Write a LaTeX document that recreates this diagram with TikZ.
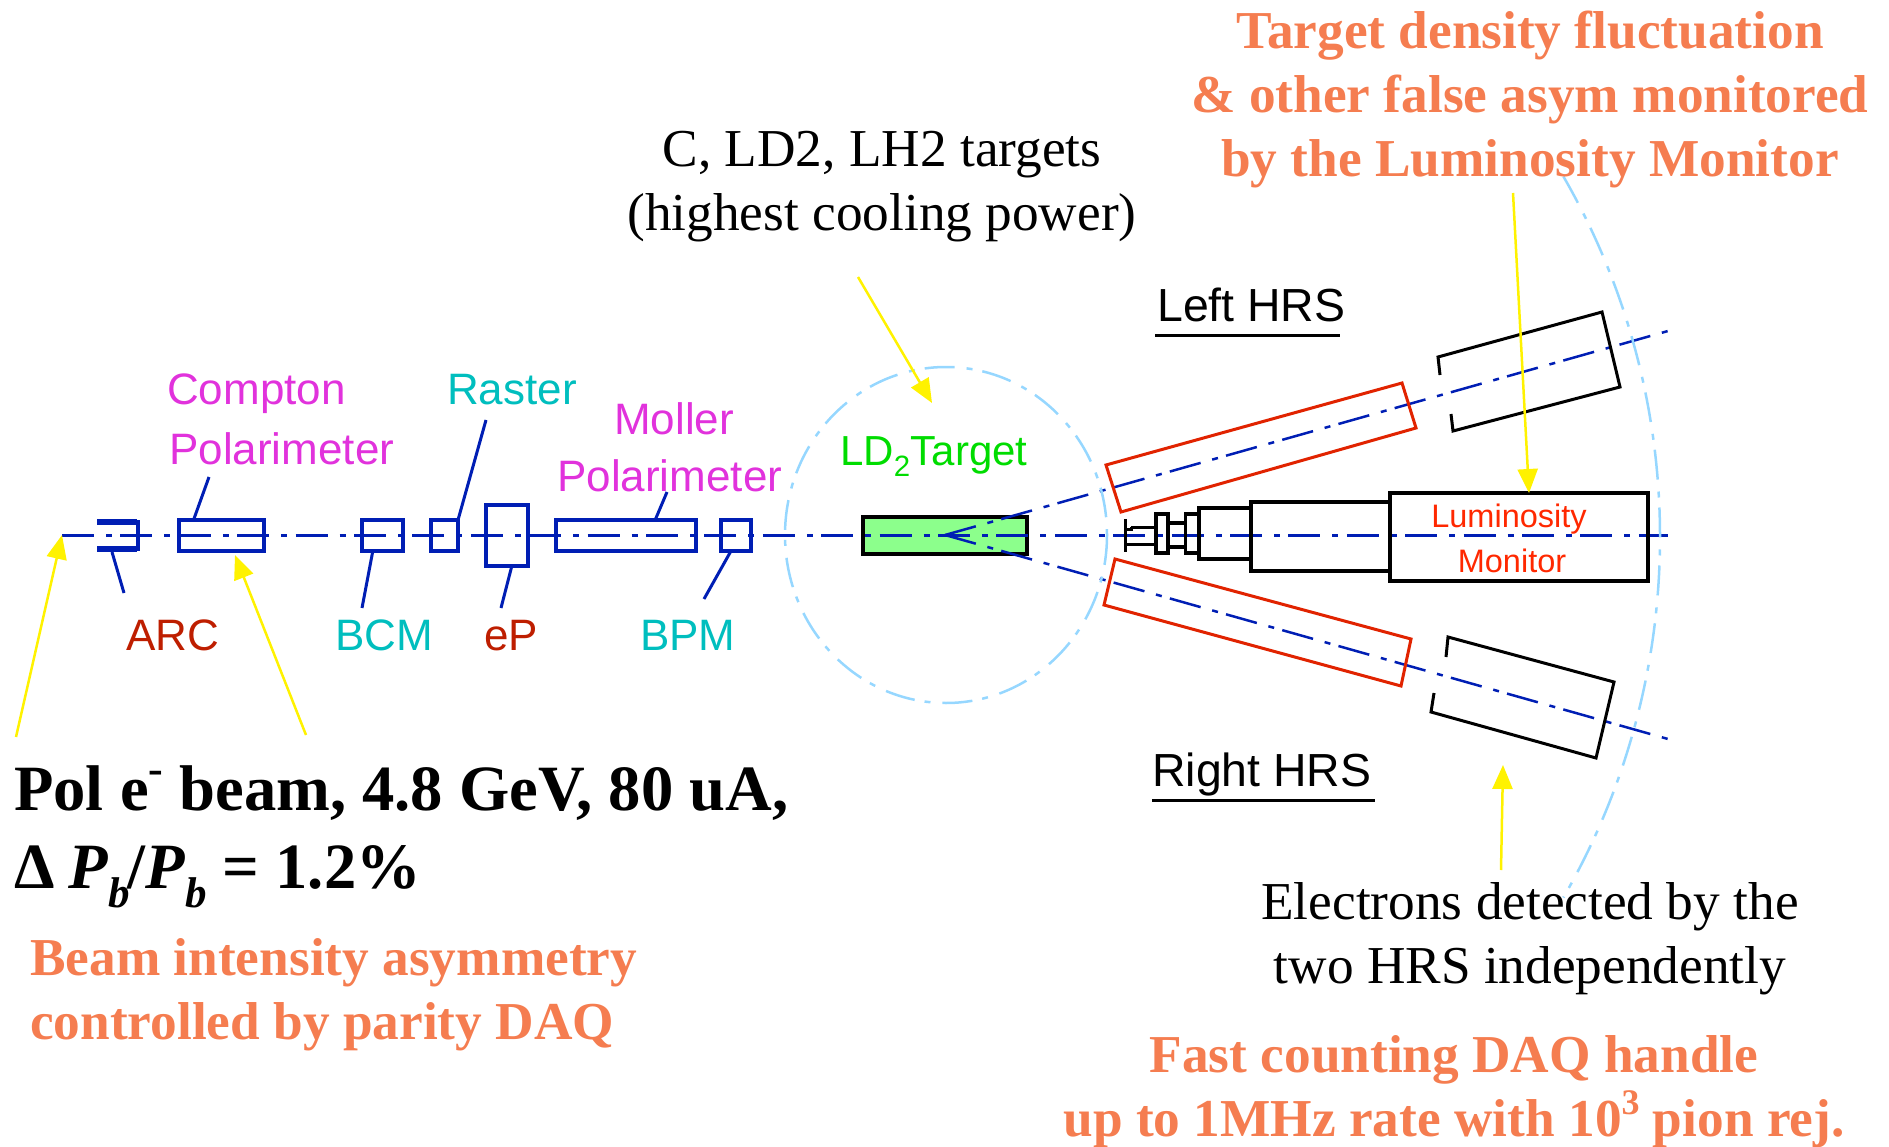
\documentclass[tikz,border=0pt]{standalone}
\usepackage{fontspec}
\setmainfont{Liberation Serif}
\setsansfont{Liberation Sans}
\usetikzlibrary{arrows.meta}
\definecolor{beamblue}{RGB}{0,30,180}
\definecolor{skyblue}{RGB}{150,215,255}
\definecolor{notered}{RGB}{245,125,80}
\definecolor{hrsred}{RGB}{225,35,0}
\definecolor{lumired}{RGB}{255,40,0}
\definecolor{arcred}{RGB}{190,30,0}
\definecolor{tealtext}{RGB}{0,190,190}
\definecolor{magtext}{RGB}{225,50,220}
\definecolor{targetgreen}{RGB}{140,255,140}
\definecolor{greentext}{RGB}{0,220,0}
\newcommand{\upmark}[2]{\raisebox{0.42em}{\fontsize{#1}{#1}\selectfont #2}}
\newcommand{\lowb}{\raisebox{-0.3em}{\fontsize{43}{43}\selectfont\bfseries\itshape b}}
\tikzset{
  beamdash/.style={beamblue, line width=3pt, dash pattern=on 32pt off 12pt on 6pt off 8.4pt},
  skydash/.style={skyblue, line width=2.5pt, dash pattern=on 30pt off 12pt on 6pt off 10pt},
  leaderline/.style={beamblue, line width=3pt},
  devbox/.style={draw=beamblue, line width=3.5pt, inner sep=0pt, outer sep=0pt, minimum height=31pt},
  lumbox/.style={draw=black, line width=3.5pt, inner sep=0pt, outer sep=0pt},
  hintarrow/.style={yellow, line width=2.5pt, -{Triangle[width=20pt,length=24pt]}},
  pixlabel/.style={font=\sffamily\fontsize{44}{44}\selectfont, inner sep=0pt, anchor=base west},
  hrslabel/.style={font=\sffamily\fontsize{46.4}{46.4}\selectfont, inner sep=0pt, anchor=base west},
  notebold/.style={font=\bfseries\fontsize{53.3}{64}\selectfont, notered, align=center, inner sep=0pt},
  noteplain/.style={font=\fontsize{53.3}{64}\selectfont, black, align=center, inner sep=0pt},
}
\begin{document}
\begin{tikzpicture}[x=1pt, y=-1pt]
  \useasboundingbox (0,0) rectangle (1889,1147);
  % target and beam axis
  \node[draw=black, fill=targetgreen, line width=3.5pt, minimum width=164pt, minimum height=37pt, inner sep=0pt, outer sep=0pt] (targetbox) at (945,535.5) {};
  \coordinate (beamstart) at (62,535);
  \coordinate (beamend) at (1668,535);
  \coordinate (vertex) at (945,535);
  \coordinate (rayup) at (1668,331);
  \coordinate (raydown) at (1668,739);
  \draw[beamdash] (beamstart) -- (beamend);
  \draw[beamdash, line width=2.5pt] (vertex) -- (rayup);
  \draw[beamdash, line width=2.5pt] (vertex) -- (raydown);
  % scattering chamber and hall wall
  \draw[skydash] (946,535) ellipse [x radius=161, y radius=168];
  \draw[skydash] plot[domain=-30:30, samples=61, smooth] ({939+721*cos(\x)},{537+721*sin(\x)});
  % beam line devices
  \node[devbox, minimum width=85pt] (comptonbox) at (221.5,535.5) {};
  \node[devbox, minimum width=41pt] (bcmbox) at (382.5,535.5) {};
  \node[devbox, minimum width=27pt] (rasterbox) at (444.5,535.5) {};
  \node[devbox, minimum width=42pt, minimum height=61pt] (epbox) at (507,535.5) {};
  \node[devbox, minimum width=140pt] (mollerbox) at (626,535.5) {};
  \node[devbox, minimum width=30pt] (bpmbox) at (736,535.5) {};
  \draw[beamblue, line width=4pt] (97,522) -- (137.5,522) -- (137.5,549) -- (97,549);
  \draw[beamblue, line width=6pt] (97,522) -- (137,522) (97,549) -- (137,549);
  \coordinate (arcfoot) at (112,552);
  \coordinate (arcend) at (124,593);
  \coordinate (comptonend) at (209,477);
  \coordinate (bcmend) at (362,608);
  \coordinate (rasterend) at (486,420);
  \coordinate (epend) at (501,608);
  \coordinate (mollerend) at (667,492);
  \coordinate (bpmend) at (704,599);
  \draw[leaderline] (arcfoot) -- (arcend);
  \draw[leaderline] (comptonbox.151) -- (comptonend);
  \draw[leaderline] (bcmbox.238) -- (bcmend);
  \draw[leaderline] (rasterbox.north east) -- (rasterend);
  \draw[leaderline] (epbox.-81) -- (epend);
  \draw[leaderline] (mollerbox.28) -- (mollerend);
  \draw[leaderline] (bpmbox.252) -- (bpmend);
  % device labels
  \node[pixlabel, magtext] (comptonlabel) at (167,404) {Compton};
  \node[pixlabel, magtext] (comptonpol) at (169,464) {Polarimeter};
  \node[pixlabel, tealtext] (rasterlabel) at (447,404) {Raster};
  \node[pixlabel, magtext] (mollerlabel) at (614,434) {Moller};
  \node[pixlabel, magtext] (mollerpol) at (557,491) {Polarimeter};
  \node[pixlabel, arcred] (arclabel) at (126,650) {ARC};
  \node[pixlabel, tealtext] (bcmlabel) at (335,650) {BCM};
  \node[pixlabel, arcred] (eplabel) at (484,650) {eP};
  \node[pixlabel, tealtext] (bpmlabel) at (640,650) {BPM};
  \node[pixlabel, greentext, font=\sffamily\fontsize{42}{42}\selectfont] (targetlabel) at (840,465) {LD\textsubscript{2}Target};
  % spectrometers
  \draw[hrsred, line width=3pt] (1106,465) -- (1402,383) -- (1416,428) -- (1121,512) -- cycle;
  \draw[hrsred, line width=3pt] (1115,559) -- (1411,639) -- (1401,686) -- (1104,605) -- cycle;
  \draw[black, line width=3pt] (1440,375) -- (1438,357) -- (1602,312) -- (1620,387) -- (1453,431) -- (1451,414);
  \draw[black, line width=3pt] (1446,657) -- (1448,637) -- (1614,682) -- (1596,758) -- (1431,712) -- (1434,693);
  \node[hrslabel] (lefthrs) at (1157,322) {Left HRS};
  \node[hrslabel] (righthrs) at (1152,786) {Right HRS};
  \coordinate (leftulstart) at (1155,336);
  \coordinate (leftulend) at (1340,336);
  \coordinate (rightulstart) at (1152,800);
  \coordinate (rightulend) at (1375,800);
  \draw[black, line width=3pt] (leftulstart) -- (leftulend);
  \draw[black, line width=3pt] (rightulstart) -- (rightulend);
  % luminosity monitor
  \node[lumbox, minimum width=258pt, minimum height=88pt] (lumimain) at (1519,537) {};
  \node[lumbox, minimum width=139pt, minimum height=69pt] (lumimid) at (1320.5,536.5) {};
  \node[lumbox, minimum width=52pt, minimum height=51pt] (lumicone) at (1225,533.5) {};
  \node[lumbox, minimum width=13.5pt, minimum height=39pt] (lumiringb) at (1192,533.5) {};
  \node[lumbox, minimum width=17.5pt, minimum height=24pt] (lumineck) at (1176.75,535) {};
  \node[lumbox, minimum width=12pt, minimum height=39pt] (lumiringa) at (1162,533.5) {};
  \coordinate (stemtop) at (1125,519);
  \coordinate (stembot) at (1125,552);
  \coordinate (stemhi) at (1131,527);
  \coordinate (stemlo) at (1125,544);
  \draw[black, line width=3pt] (stemtop) -- (stembot);
  \draw[black, line width=3pt] (stemhi) -- (lumiringa.west |- stemhi);
  \draw[black, line width=3pt] (stemlo) -- (lumiringa.west |- stemlo);
  \draw[black, line width=3pt] (1125,529.5) -- (1131,529.5) -- (stemhi);
  \node[font=\sffamily\fontsize{32.5}{32.5}\selectfont, lumired, inner sep=0pt, anchor=base] (lumiword) at (1509,527) {Luminosity};
  \node[font=\sffamily\fontsize{32.5}{32.5}\selectfont, lumired, inner sep=0pt, anchor=base] (monword) at (1512,572) {Monitor};
  % notes
  \node[notebold] (densitynote) at (1530,99) {Target density fluctuation\\\& other false asym monitored\\by the Luminosity Monitor};
  \node[noteplain] (targetnote) at (882,187) {C, LD2, LH2 targets\\(highest cooling power)};
  \node[font=\bfseries\fontsize{64.6}{78}\selectfont, align=left, inner sep=0pt, anchor=west] (beamnote) at (14,837) {Pol e\upmark{44}{-} beam, 4.8 GeV, 80 uA,\\Δ\hspace{-2pt} \textit{P}\lowb\hspace{-3pt}/\textit{P}\lowb{} = 1.2\%};
  \node[notebold, align=left, anchor=west] (intensitynote) at (30,995) {Beam intensity asymmetry\\controlled by parity DAQ};
  \node[noteplain] (electronnote) at (1530,939) {Electrons detected by the\\two HRS independently};
  \node[notebold] (daqnote) at (1454,1092) {Fast counting DAQ handle\\up to 1MHz rate with 10\upmark{36}{3} pion rej.};
  % pointers
  \coordinate (beamfoot) at (16,737);
  \coordinate (comptonfoot) at (306,735);
  \coordinate (comptontip) at (235,555);
  \coordinate (targetfoot) at (858,277);
  \coordinate (targettip) at (932,403);
  \coordinate (lumifoot) at (1513,193);
  \coordinate (hrsfoot) at (1501,870);
  \coordinate (hrstip) at (1503,765);
  \draw[hintarrow] (beamfoot) -- (beamstart);
  \draw[hintarrow] (comptonfoot) -- (comptontip);
  \draw[hintarrow] (targetfoot) -- (targettip);
  \draw[hintarrow] (lumifoot) -- (lumimain.north -| 1529,0);
  \draw[hintarrow] (hrsfoot) -- (hrstip);
\end{tikzpicture}
\end{document}
